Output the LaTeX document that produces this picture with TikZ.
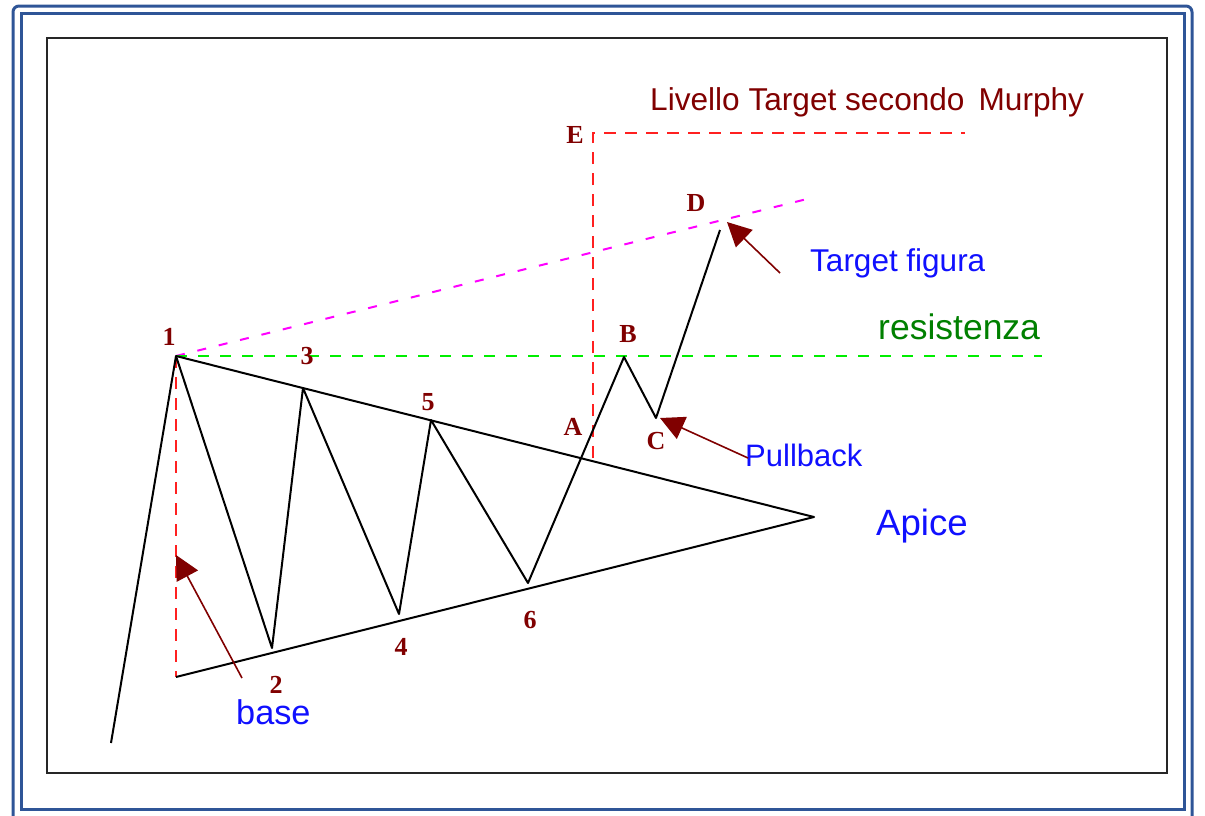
\documentclass[tikz,border=0pt]{standalone}
\usepackage{fontspec}
\setmainfont{Liberation Sans}
\newfontfamily\lblfont{Liberation Serif}
\usetikzlibrary{arrows.meta}
\definecolor{frameblue}{HTML}{2F5597}
\definecolor{darkred}{HTML}{800000}
\definecolor{txtblue}{HTML}{1010FF}
\definecolor{txtgreen}{HTML}{008000}
\definecolor{dashred}{HTML}{FF2020}
\definecolor{dashgreen}{HTML}{00EE00}
\definecolor{dashmag}{HTML}{FF00FF}
\tikzset{
  price/.style={black, line width=2pt, line join=round},
  redline/.style={dashred, line width=2pt, dash pattern=on 12pt off 9pt},
  greenline/.style={dashgreen, line width=2pt, dash pattern=on 11pt off 11pt},
  magline/.style={dashmag, line width=2pt, dash pattern=on 9pt off 13pt},
  pointer/.style={darkred, line width=1.6pt, -{Triangle[length=24pt,width=24pt]}},
  ptlabel/.style={font=\lblfont\bfseries\fontsize{26}{26}\selectfont, text=darkred, inner sep=0pt},
  note/.style={inner sep=0pt, anchor=west}
}
\begin{document}
\begin{tikzpicture}[x=1pt,y=-1pt]
\useasboundingbox (0,0) rectangle (1205,815);
% frames
\draw[frameblue, line width=3pt, rounded corners=6pt] (13,6) -- (1192,6) -- (1192,830) -- (13,830) -- cycle;
\draw[frameblue, line width=3pt] (21,13) rectangle (1184,809);
\draw[black!85, line width=2.5pt] (47,38) rectangle (1167,773);

% coordinates
\coordinate (p0) at (111,743);
\coordinate (p1) at (176,356);
\coordinate (p2) at (272,648);
\coordinate (p3) at (303,388);
\coordinate (p4) at (399,614);
\coordinate (p5) at (431,420);
\coordinate (p6) at (528,583);
\coordinate (pB) at (624,357);
\coordinate (pC) at (656,418);
\coordinate (pD) at (720,230);
\coordinate (apex) at (814,517);
\coordinate (lowL) at (176,677);
\coordinate (eTop) at (593,133);
\coordinate (eBot) at (593,458);
\coordinate (eEnd) at (965,133);
\coordinate (magEnd) at (815,197);
\coordinate (grEnd) at (1042,356);

% dashed guides
\draw[redline] (p1) -- (lowL);
\draw[redline] (eBot) -- (eTop) -- (eEnd);
\draw[magline] (p1) -- (magEnd);
\draw[greenline] (p1) -- (grEnd);

% triangle
\draw[price] (p1) -- (apex) -- (lowL);
% price path
\draw[price] (p0) -- (p1) -- (p2) -- (p3) -- (p4) -- (p5) -- (p6) -- (pB) -- (pC) -- (pD);

% point labels
\node[ptlabel] (l1) at (169,337) {1};
\node[ptlabel] (l2) at (276,685) {2};
\node[ptlabel] (l3) at (307,356) {3};
\node[ptlabel] (l4) at (401,647) {4};
\node[ptlabel] (l5) at (428,402) {5};
\node[ptlabel] (l6) at (530,620) {6};
\node[ptlabel] (lA) at (573,427) {A};
\node[ptlabel] (lB) at (628,334) {B};
\node[ptlabel] (lC) at (656,441) {C};
\node[ptlabel] (lD) at (696,203) {D};
\node[ptlabel] (lE) at (575,135) {E};

% texts
\node[note, text=darkred, font=\fontsize{31.6}{32}\selectfont] (murphy) at (650,102) {Livello Target secondo\, Murphy};
\node[note, text=txtblue, font=\fontsize{31.5}{32}\selectfont] (tfig) at (810,263) {Target figura};
\node[note, text=txtgreen, font=\fontsize{35.5}{36}\selectfont] (res) at (878,327) {resistenza};
\node[note, text=txtblue, font=\fontsize{31}{31}\selectfont] (pull) at (745,455) {Pullback};
\node[note, text=txtblue, font=\fontsize{36.6}{37}\selectfont] (apice) at (876,526) {Apice};
\node[note, text=txtblue, font=\fontsize{34.3}{35}\selectfont] (base) at (236,712) {base};

% pointers
\coordinate (bTail) at (242,678);
\coordinate (bTip) at (176,555);
\coordinate (tTail) at (780,273);
\coordinate (tTip) at (727,222);
\coordinate (pTail) at (748,458);
\coordinate (pTip) at (660,418);
\draw[pointer] (bTail) -- (bTip);
\draw[pointer] (tTail) -- (tTip);
\draw[pointer] (pTail) -- (pTip);
\end{tikzpicture}
\end{document}
